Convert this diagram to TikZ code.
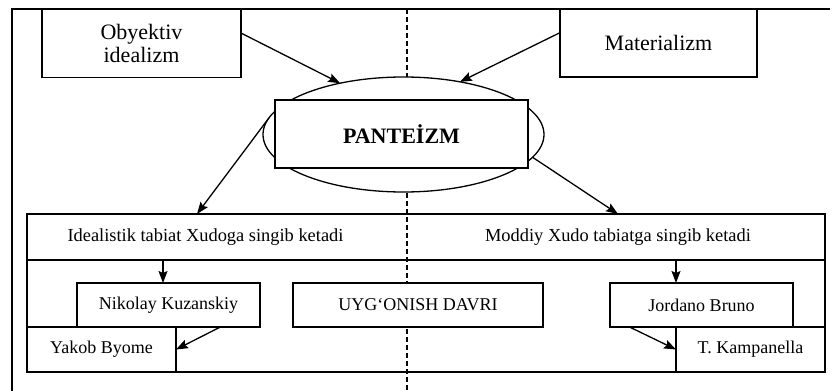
\documentclass[tikz,border=0pt]{standalone}
\usepackage{fontspec}
\setmainfont{Liberation Serif}
\usetikzlibrary{arrows.meta,positioning,shapes.geometric}
\tikzset{
  framebox/.style={draw,fill=white,inner sep=0pt,outer sep=0pt,align=center},
  topbox/.style={framebox,minimum height=34pt,font=\fontsize{11}{11.5}\selectfont},
  namebox/.style={framebox,minimum height=22pt,font=\fontsize{9}{11}\selectfont},
  rowtext/.style={inner sep=0pt,outer sep=0pt,minimum height=23pt,font=\fontsize{9.2}{11}\selectfont},
  band/.style={draw,inner sep=0pt,outer sep=0pt,minimum width=399pt},
  flow/.style={-{Stealth[length=6pt,width=4.5pt,inset=1pt]}},
  divider/.style={dash pattern=on 2.5pt off 1.5pt},
}

\begin{document}
\begin{tikzpicture}[x=0.5pt,y=-0.5pt,line width=0.65pt]
\useasboundingbox (0,0) rectangle (837,391);

% --- frame and dashed middle line ---
\draw (12,391) |- (830,9);
\draw[divider] (407,9) -- (407,391);

% --- the two sources ---
\node[topbox, minimum width=99.5pt] (obj) at (141.5,43.5) {Obyektiv\\idealizm};
\node[topbox, minimum width=98.5pt] (mat) at (658.5,43) {Materializm};

% --- panteizm ---
\node[ellipse, draw, fill=white, inner sep=0pt, outer sep=0pt,
      minimum width=140.5pt, minimum height=57.5pt] (ell) at (403.5,134.5) {};
\node[framebox, minimum width=126.5pt, minimum height=34pt,
      font=\bfseries\fontsize{11}{12}\selectfont] (pan) at (401.5,134) {PANTEİZM};

\draw[flow] (obj.6) -- (ell.141);
\draw[flow] (mat.174) -- (ell.43);

% --- the two ways ---
\node[band, minimum height=23pt] (row)  at (426,237) {};
\node[band, minimum height=56pt] (base) at (426,316) {};
\node[rowtext] (ideal) at (205.5,237) {Idealistik tabiat Xudoga singib ketadi};
\node[rowtext] (modd)  at (618,237)   {Moddiy Xudo tabiatga singib ketadi};

\draw[flow] (ell.173) -- ([xshift=-4.25pt]ideal.north);
\draw[flow] (ell.-10) -- (modd.north);

% --- thinkers ---
\node[namebox, minimum width=91.5pt] (nik) at (168.5,305) {Nikolay Kuzanskiy};
\node[namebox, minimum width=125pt]  (uyg) at (418,305)   {UYG‘ONISH DAVRI};
\node[namebox, minimum width=91.5pt] (jor) at (701.5,305) {Jordano Bruno};
\node[namebox, minimum width=74.5pt, minimum height=22.5pt] (yak) at (101.5,349.5) {Yakob Byome};
\node[namebox, minimum width=74.5pt, minimum height=22.5pt] (kam) at (750.5,349.5) {T. Kampanella};

\draw[flow] ([xshift=-2.75pt]nik.north |- row.south) -- ([xshift=-2.75pt]nik.north);
\draw[flow] (kam.west |- row.south) -- (kam.west |- jor.north);
\draw[flow] (nik.-23) -- (yak.east);
\draw[flow] (jor.197) -- (kam.west);

\end{tikzpicture}
\end{document}
